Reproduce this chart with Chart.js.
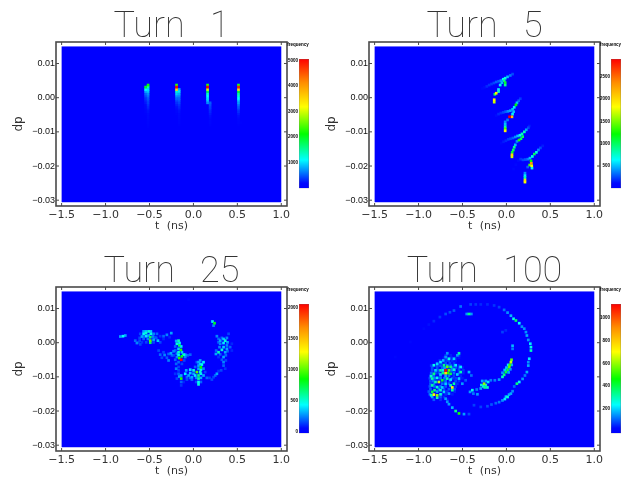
<!DOCTYPE html>
<html lang="en">
<head>
<meta charset="UTF-8">
<title>Turn 1, 5, 25, 100</title>
<script src="https://cdn.jsdelivr.net/npm/chart.js"></script>
<style>
    body { margin: 0; background: #fff; }
    #page { position: relative; width: 630px; height: 477px; overflow: hidden; filter: blur(0.45px); }
    canvas { position: absolute; }
</style>
</head>
<body>
<div id="page"></div>
<script>
// axis ticks, shared by all four panels
const tTicks = [-1.5, -1.0, -0.5, 0.0, 0.5, 1.0];
const dpTicks = [-0.03, -0.02, -0.01, 0.00, 0.01];
const tRange = [-1.5, 1.0];
const dpRange = [-0.0306, 0.015];

// colour bar limits and labels
const turn1Bar = { min: 0, max: 5050, ticks: [1000, 2000, 3000, 4000, 5000] };
const turn5Bar = { min: 0, max: 2900, ticks: [500, 1000, 1500, 2000, 2500] };
const turn25Bar = { min: -27, max: 2064, ticks: [0, 500, 1000, 1500, 2000] };
const turn100Bar = { min: -11, max: 1118, ticks: [200, 400, 600, 800, 1000] };

const colorStops = [[0, '#0000ff'], [0.04, '#0008ff'], [0.22, '#00ffff'], [0.42, '#00ff00'], [0.63, '#ffff00'], [0.82, '#ff8c00'], [1, '#ff0000']];

// cells: [t (ns), dp, frequency]
const turn1Cells = [
    [-0.516,.0037,2200],[-0.516,.0031,1400],[-0.516,.0024,1000],[-0.516,.0018,900],[-0.516,.0011,700],[-0.516,.0005,600],[-0.516,-.0002,500],[-0.516,-.0008,450],[-0.516,-.0015,400],[-0.516,-.0021,350],[-0.516,-.0028,300],[-0.516,-.0034,250],[-0.516,-.0041,220],[-0.516,-.0047,200],[-0.516,-.0054,180],[-0.516,-.0060,150],[-0.516,-.0067,120],[-0.516,-.0073,100],[-0.516,-.0080,80],[-0.516,-.0086,60],
    [-0.544,.0031,2000],[-0.544,.0024,1100],[-0.544,.0018,800],[-0.544,.0011,550],[-0.544,.0005,450],[-0.544,-.0002,350],[-0.544,-.0008,300],[-0.544,-.0015,250],[-0.544,-.0021,200],[-0.544,-.0028,170],[-0.544,-.0034,130],[-0.544,-.0041,100],[-0.544,-.0047,60],
    [-0.192,.0037,2300],[-0.192,.0031,5000],[-0.192,.0024,3500],[-0.192,.0018,1300],[-0.192,.0011,900],[-0.192,.0005,700],[-0.192,-.0002,550],[-0.192,-.0008,450],[-0.192,-.0015,350],[-0.192,-.0021,280],[-0.192,-.0028,220],[-0.192,-.0034,170],[-0.192,-.0041,120],[-0.192,-.0047,80],
    [-0.162,.0024,800],[-0.162,.0018,1000],[-0.162,.0011,800],[-0.162,.0005,650],[-0.162,-.0002,550],[-0.162,-.0008,500],[-0.162,-.0015,420],[-0.162,-.0021,350],[-0.162,-.0028,300],[-0.162,-.0034,250],[-0.162,-.0041,220],[-0.162,-.0047,200],[-0.162,-.0054,170],[-0.162,-.0060,150],[-0.162,-.0067,120],[-0.162,-.0073,90],[-0.162,-.0080,60],
    [0.161,.0037,2300],[0.161,.0031,5000],[0.161,.0024,3000],[0.161,.0018,1800],[0.161,.0011,1300],[0.161,.0005,1100],[0.161,-.0002,1000],[0.161,-.0008,900],[0.161,-.0015,700],
    [0.190,-.0015,500],[0.190,-.0021,450],[0.190,-.0028,400],[0.190,-.0034,350],[0.190,-.0041,300],[0.190,-.0047,260],[0.190,-.0054,220],[0.190,-.0060,180],[0.190,-.0067,150],[0.190,-.0073,120],[0.190,-.0080,80],
    [0.513,.0037,2300],[0.513,.0031,4800],[0.513,.0024,3400],[0.513,.0018,1900],[0.513,.0011,1500],[0.513,.0005,1300],[0.513,-.0002,1100],[0.513,-.0008,900],[0.513,-.0015,750],[0.513,-.0021,600],[0.513,-.0028,500],[0.513,-.0034,400],[0.513,-.0041,330],[0.513,-.0047,270],[0.513,-.0054,220],[0.513,-.0060,170],[0.513,-.0067,130],[0.513,-.0073,90],[0.513,-.0080,50],[0.541,-.0073,40]
];

const turn5Cells = [
    [.070,.0069,250],[.044,.0065,350],[.013,.0061,500],[-.014,.0057,700],[-.036,.0054,650],[-.063,.0050,400],[-.090,.0048,300],[-.116,.0046,300],[-.143,.0043,250],[-.170,.0040,220],[-.196,.0037,200],[-.223,.0033,180],[-.250,.0030,120],[-.273,.0027,80],
    [-.025,.0050,900],[-.014,.0044,1100],[-.014,.0037,900],[-.052,.0044,500],[-.071,.0037,600],[-.090,.0024,600],[-.090,.0018,750],[-.116,.0013,1900],[-.132,.0010,1000],[-.139,-.0006,1900],[-.139,-.0013,1700],
    [.158,-.0003,220],[.139,-.0009,300],[.120,-.0015,500],[.108,-.0021,1200],[.089,-.0028,600],[.070,-.0034,500],[.044,-.0038,450],[.017,-.0040,400],[-.010,-.0041,300],[-.036,-.0043,250],[-.063,-.0045,200],[-.090,-.0048,180],[-.116,-.0052,120],
    [.082,-.0041,500],[.070,-.0048,600],[.036,-.0056,2900],[.063,-.0056,2100],[.013,-.0065,350],[-.014,-.0071,400],[-.014,-.0078,500],[-.014,-.0085,800],[-.014,-.0091,1400],[-.014,-.0097,1900],
    [.261,-.0083,150],[.249,-.0088,250],[.226,-.0094,450],[.204,-.0100,800],[.177,-.0106,800],[.154,-.0110,650],[.127,-.0112,500],[.101,-.0115,400],[.074,-.0118,300],[.047,-.0120,250],[.021,-.0122,220],[-.006,-.0126,180],[-.033,-.0129,150],[-.059,-.0133,100],
    [.185,-.0114,1000],[.166,-.0120,1000],[.143,-.0124,1300],[.120,-.0128,400],[.101,-.0138,500],[.089,-.0145,900],[.078,-.0153,1000],[.066,-.0160,1100],[.063,-.0167,2000],[.063,-.0173,1700],
    [.413,-.0141,150],[.387,-.0147,250],[.364,-.0153,400],[.341,-.0160,700],[.318,-.0165,1000],[.295,-.0172,700],[.268,-.0177,500],[.242,-.0180,350],[.215,-.0181,280],[.188,-.0182,250],[.162,-.0180,200],[.135,-.0184,120],[.108,-.0196,100],[.082,-.0209,80],
    [.280,-.0185,1200],[.284,-.0192,2300],[.265,-.0197,1400],[.288,-.0199,1800],[.242,-.0203,300],[.291,-.0206,700],
    [.211,-.0221,400],[.211,-.0228,600],[.211,-.0234,800],[.211,-.0241,2000],[.211,-.0247,1800]
];

const turn25Cells = [
    [.217,.0062,400],[.240,.0057,800],[.229,.0050,250],[-.055,.0126,40],
    [-.802,.0019,450],[-.832,.0018,300],[-.775,.0021,300],[-.662,.0006,200],[-.643,-.0001,250],[-.612,.0006,150],
    [-.567,.0026,450],[-.540,.0028,500],[-.510,.0033,500],[-.484,.0026,450],[-.586,.0018,300],[-.537,.0019,400],[-.491,.0016,700],[-.491,.0006,1000],[-.491,.0000,700],[-.453,.0026,250],[-.415,.0026,200],[-.453,.0009,300],[-.404,.0006,350],[-.378,.0001,150],[-.340,.0019,200],[-.302,.0023,250],[-.252,.0028,300],[-.567,.0011,200],[-.605,-.0005,150],[-.567,.0033,300],[-.540,.0033,350],[-.484,.0033,350],
    [-.605,.0026,150],[-.612,.0014,150],[-.567,.0018,200],[-.510,.0021,300],[-.461,.0018,250],[-.434,.0016,150],[-.518,.0011,250],[-.453,.0001,150],[-.423,.0014,180],[-.378,.0019,120],[-.624,.0001,120],[-.586,.0001,120],[-.537,.0001,150],[-.340,.0011,100],[-.271,.0016,100],
    [-.169,.0006,550],[-.188,-.0003,500],[-.161,-.0008,700],[-.207,-.0011,200],[-.143,-.0021,900],[-.169,-.0028,500],[-.396,-.0023,150],[-.378,-.0035,200],[-.328,-.0036,250],[-.283,-.0052,250],[-.283,-.0033,200],[-.256,-.0031,300],[-.226,-.0025,250],[-.169,-.0036,450],[-.131,-.0040,800],[-.112,-.0035,500],[-.139,-.0050,2050],[-.161,-.0045,900],[-.093,-.0035,300],[-.036,-.0035,200],[-.207,-.0050,200],[-.196,-.0062,200],[-.196,-.0076,250],[-.169,-.0091,200],[-.139,-.0105,900],[-.161,-.0099,300],[-.139,-.0115,200],
    [-.158,-.0001,400],[-.196,.0005,300],[-.139,-.0011,400],[-.169,-.0018,350],[-.207,-.0023,200],[-.188,-.0032,250],[-.245,-.0037,200],[-.302,-.0044,180],[-.340,-.0028,150],[-.359,-.0044,150],[-.131,-.0028,350],[-.093,-.0042,250],[-.067,-.0037,200],[-.169,-.0057,200],[-.131,-.0062,150],[-.226,-.0037,150],[-.188,-.0042,250],[-.105,-.0052,150],[-.169,-.0071,150],[-.169,-.0081,150],[-.139,-.0096,300],[-.188,-.0105,150],[-.112,-.0115,100],[-.207,-.0091,120],[-.139,-.0125,120],
    [.058,-.0057,300],[.085,-.0072,850],[.115,-.0057,400],[.058,-.0067,300],[.039,-.0086,1000],[.002,-.0081,500],[-.036,-.0079,400],[-.082,-.0081,300],[-.093,-.0091,400],[-.055,-.0096,300],[-.017,-.0101,300],[.020,-.0096,400],[.058,-.0096,650],[.058,-.0105,600],[.058,-.0115,450],[.058,-.0122,500],[.115,-.0096,300],[.153,-.0103,200],[.210,-.0108,150],[.267,-.0091,300],[.229,-.0101,150],[-.074,-.0108,150],[-.017,-.0108,200],[.085,-.0079,500],[.077,-.0062,350],
    [.077,-.0052,300],[.039,-.0057,180],[.096,-.0064,450],[.115,-.0076,250],[.058,-.0076,300],[.020,-.0071,200],[.077,-.0086,500],[.032,-.0103,250],[.002,-.0091,300],[-.036,-.0089,350],[-.074,-.0101,200],[-.036,-.0103,200],[.085,-.0103,300],[.085,-.0091,400],[.032,-.0115,150],[.085,-.0115,200],[.134,-.0086,150],[.183,-.0103,150],[.248,-.0096,200],[.286,-.0083,120],
    [.267,.0019,250],[.305,.0006,300],[.362,.0006,500],[.343,-.0001,400],[.388,.0001,300],[.400,.0026,150],[.418,-.0013,200],[.381,-.0018,300],[.324,-.0021,500],[.286,-.0028,550],[.256,-.0033,300],[.362,-.0028,300],[.343,-.0042,300],[.343,-.0057,250],[.343,-.0067,200],[.316,-.0081,150],[.437,-.0023,100],[.286,.0011,200],[.381,-.0008,250],
    [.286,.0001,200],[.324,.0014,200],[.343,.0011,350],[.381,.0014,250],[.305,-.0003,250],[.259,-.0023,200],[.297,-.0013,250],[.343,-.0013,350],[.388,-.0025,200],[.305,-.0034,200],[.369,-.0037,200],[.324,-.0050,180],[.369,-.0052,150],[.362,-.0076,120],[.286,-.0042,120],[.437,-.0003,100]
];

const turn100Cells = [
    [-1.264,-.0042,20],[-1.092,.0002,25],[-.940,.0041,30],[-.883,.0053,40],[-.826,.0063,60],[-.757,.0075,70],[-.692,.0084,90],[-.643,.0089,90],[-.597,.0094,100],[-.521,.0106,120],[-.452,.0084,150],[-.426,.0084,350],[-.399,.0084,150],[-.407,.0112,80],[-.349,.0112,70],[-.292,.0112,60],[-.216,.0112,60],[-.140,.0109,70],[-.083,.0104,80],[-.026,.0096,120],[.013,.0088,150],[.051,.0079,180],[.081,.0070,260],[.108,.0065,380],[.146,.0057,240],[.176,.0047,150],[.203,.0041,150],[.222,.0031,150],[.233,.0021,170],[.249,.0008,150],[.272,-.0003,220],[.279,-.0013,260],[.279,-.0023,300],[.260,-.0047,220],[.249,-.0057,150],[.249,-.0067,170],[.233,-.0086,170],[.211,-.0096,130],[.184,-.0106,150],[.146,-.0115,230],[.119,-.0120,360],[.089,-.0128,110],[.051,-.0149,170],[.013,-.0159,270],[-.018,-.0165,220],[-.045,-.0169,150],[-.083,-.0174,130],[-.121,-.0177,110],[-.170,-.0181,100],[-.216,-.0186,90],[-.292,-.0188,80],[-.369,-.0183,80],
    [-.045,.0031,80],[-.007,.0036,60],[.070,-.0009,180],[.070,-.0018,130],
    [.058,-.0050,550],[.051,-.0057,650],[.039,-.0065,500],[.032,-.0071,550],[.013,-.0079,400],[-.007,-.0086,400],[-.026,-.0094,350],[-.045,-.0100,300],[-.083,-.0108,160],[-.132,-.0110,130],[-.178,-.0110,130],[-.208,-.0115,220],[-.254,-.0120,600],[-.285,-.0124,280],[-.216,-.0131,280],[-.247,-.0131,330],[-.292,-.0134,170],[-.338,-.0137,130],[-.388,-.0139,260],[-.414,-.0144,160],[-.330,-.0151,160],[-.376,-.0149,130],
    [.020,-.0065,220],[.000,-.0073,190],[-.020,-.0080,190],[.060,-.0065,170],[.045,-.0078,150],[.025,-.0087,170],[-.045,-.0088,150],[-.275,-.0112,170],[-.235,-.0112,170],[-.235,-.0124,300],[-.262,-.0128,260],[.030,-.0152,170],[-.005,-.0158,190],[.070,-.0142,140],
    [-.673,-.0031,150],[-.540,-.0031,320],[-.559,-.0037,150],[-.654,-.0047,260],[-.692,-.0042,150],[-.597,-.0047,200],[-.750,-.0057,220],[-.719,-.0052,180],[-.826,-.0066,260],[-.788,-.0062,200],[-.711,-.0066,350],[-.673,-.0071,550],[-.635,-.0071,350],[-.750,-.0081,320],[-.692,-.0081,1118],[-.692,-.0089,750],[-.654,-.0081,550],[-.666,-.0089,500],[-.635,-.0091,400],[-.723,-.0089,350],[-.750,-.0093,200],[-.578,-.0066,220],[-.521,-.0071,220],[-.597,-.0079,280],[-.521,-.0086,320],[-.559,-.0093,200],[-.426,-.0086,180],[-.399,-.0096,120],[-.826,-.0091,350],[-.856,-.0098,280],[-.845,-.0105,320],[-.769,-.0115,650],[-.730,-.0110,420],[-.788,-.0103,250],[-.807,-.0115,300],[-.673,-.0105,320],[-.635,-.0108,220],[-.616,-.0131,720],[-.597,-.0120,320],[-.635,-.0125,300],[-.616,-.0139,320],[-.654,-.0149,160],[-.845,-.0125,320],[-.788,-.0130,280],[-.826,-.0152,700],[-.788,-.0154,600],[-.845,-.0144,400],[-.818,-.0139,350],[-.856,-.0154,300],[-.750,-.0139,280],[-.750,-.0151,280],[-.711,-.0144,200],[-.788,-.0161,300],[-.692,-.0164,160],[-.673,-.0173,150],[-.654,-.0180,160],[-.616,-.0190,180],[-.578,-.0200,350],[-.540,-.0207,480],[-.483,-.0209,160],[-.426,-.0209,90],[-.502,-.0120,160],[-.540,-.0105,200],[-.464,-.0110,100],[-.807,-.0081,200],[-.730,-.0131,200],[-.692,-.0120,200],
    [-.692,-.0037,60],[-.681,-.0037,70],[-.635,-.0037,50],[-.540,-.0037,70],
    [-.711,-.0044,50],[-.681,-.0044,70],[-.628,-.0044,60],[-.578,-.0044,50],[-.540,-.0044,45],
    [-.757,-.0052,70],[-.681,-.0052,80],[-.654,-.0052,90],[-.616,-.0052,70],[-.578,-.0052,50],
    [-.788,-.0060,70],[-.730,-.0060,60],[-.692,-.0060,90],[-.643,-.0060,90],[-.597,-.0060,70],
    [-.856,-.0067,70],[-.788,-.0067,90],[-.750,-.0067,100],[-.673,-.0067,160],[-.635,-.0067,110],[-.597,-.0067,90],[-.540,-.0067,70],
    [-.845,-.0073,90],[-.788,-.0073,90],[-.730,-.0073,110],[-.704,-.0073,160],[-.616,-.0073,120],[-.578,-.0073,90],[-.540,-.0073,90],[-.502,-.0073,60],
    [-.845,-.0081,90],[-.780,-.0081,100],[-.723,-.0081,220],[-.624,-.0081,130],[-.589,-.0081,100],[-.540,-.0081,90],[-.490,-.0081,70],
    [-.856,-.0089,110],[-.807,-.0089,90],[-.769,-.0089,90],[-.597,-.0089,120],[-.540,-.0089,90],[-.490,-.0089,55],
    [-.864,-.0097,100],[-.826,-.0097,110],[-.750,-.0097,100],[-.692,-.0097,170],[-.654,-.0097,130],[-.597,-.0097,80],[-.521,-.0097,55],
    [-.871,-.0104,90],[-.818,-.0104,130],[-.750,-.0104,130],[-.704,-.0104,130],[-.616,-.0104,100],[-.578,-.0104,80],[-.502,-.0104,50],
    [-.864,-.0112,100],[-.833,-.0112,130],[-.692,-.0112,120],[-.643,-.0112,90],[-.578,-.0112,90],[-.540,-.0112,70],
    [-.864,-.0120,100],[-.826,-.0120,120],[-.730,-.0120,120],[-.654,-.0120,110],[-.559,-.0120,65],
    [-.871,-.0128,100],[-.818,-.0128,110],[-.750,-.0128,120],[-.692,-.0128,100],[-.578,-.0128,70],
    [-.864,-.0136,110],[-.769,-.0136,130],[-.711,-.0136,90],[-.654,-.0136,100],[-.589,-.0136,90],
    [-.883,-.0143,100],[-.788,-.0143,160],[-.673,-.0143,70],[-.589,-.0143,55],
    [-.871,-.0151,120],[-.742,-.0151,100],[-.692,-.0151,65],[-.616,-.0151,50],
    [-.845,-.0159,160],[-.750,-.0159,100],[-.711,-.0159,60],
    [-.826,-.0167,100],[-.750,-.0167,65],[-.673,-.0167,60]
];

const panels = [
    { title: 'Turn  1', cells: turn1Cells, bar: turn1Bar, left: 0, top: 0, barGap: 12 },
    { title: 'Turn  5', cells: turn5Cells, bar: turn5Bar, left: 313, top: 0, barGap: 11 },
    { title: 'Turn  25', cells: turn25Cells, bar: turn25Bar, left: 0, top: 245, barGap: 12 },
    { title: 'Turn  100', cells: turn100Cells, bar: turn100Bar, left: 313, top: 245, barGap: 11 }
];

function minusSign(text) {
    return text.replace('-', '\u2212');
}

function lerpColor(a, b, k) {
    const pa = parseInt(a.slice(1), 16), pb = parseInt(b.slice(1), 16);
    const ch = (s) => Math.round(((pa >> s) & 255) * (1 - k) + ((pb >> s) & 255) * k);
    return `rgb(${ch(16)},${ch(8)},${ch(0)})`;
}

function freqColor(frac) {
    frac = Math.max(0, Math.min(1, frac));
    for (let i = 1; i < colorStops.length; i++) {
        if (frac <= colorStops[i][0]) {
            const k = (frac - colorStops[i - 1][0]) / (colorStops[i][0] - colorStops[i - 1][0]);
            return lerpColor(colorStops[i - 1][1], colorStops[i][1], k);
        }
    }
    return colorStops[colorStops.length - 1][1];
}

function addCanvas(left, top, width, height) {
    const canvas = document.createElement('canvas');
    canvas.width = width;
    canvas.height = height;
    canvas.style.left = left + 'px';
    canvas.style.top = top + 'px';
    document.getElementById('page').appendChild(canvas);
    return canvas;
}

// blue field, then the frame with its inward ticks
const framePlugin = {
    id: 'frame',
    beforeDraw(chart) {
        chart.ctx.wordSpacing = '4px';
    },
    beforeDatasetsDraw(chart) {
        const { ctx, scales: { x, y } } = chart;
        const x0 = x.getPixelForValue(tRange[0]), x1 = x.getPixelForValue(tRange[1]);
        const y0 = y.getPixelForValue(dpRange[1]), y1 = y.getPixelForValue(dpRange[0]);
        ctx.save();
        ctx.fillStyle = '#0000ff';
        ctx.fillRect(x0, y0, x1 - x0, y1 - y0);
        ctx.restore();
    },
    afterDraw(chart) {
        const { ctx, chartArea: a, scales: { x, y } } = chart;
        ctx.save();
        ctx.strokeStyle = '#4a4a4a';
        ctx.lineWidth = 1.6;
        ctx.strokeRect(a.left, a.top, a.right - a.left, a.bottom - a.top);
        ctx.lineWidth = 1;
        ctx.beginPath();
        tTicks.forEach((v) => {
            const px = x.getPixelForValue(v);
            ctx.moveTo(px, a.top); ctx.lineTo(px, a.top + 3);
            ctx.moveTo(px, a.bottom); ctx.lineTo(px, a.bottom - 3);
        });
        dpTicks.forEach((v) => {
            const py = y.getPixelForValue(v);
            ctx.moveTo(a.left, py); ctx.lineTo(a.left + 3, py);
            ctx.moveTo(a.right, py); ctx.lineTo(a.right - 3, py);
        });
        ctx.stroke();
        ctx.restore();
    }
};

function drawPanel(p) {
    const cells = [...p.cells].sort((a, b) => a[2] - b[2]);
    const span = p.bar.max - p.bar.min;

    new Chart(addCanvas(p.left, p.top, 312, 232), {
        type: 'scatter',
        data: {
            datasets: [{
                data: cells.map((c) => ({ x: c[0], y: c[1], f: c[2] })),
                pointStyle: 'rect',
                pointRadius: 1.9,
                borderWidth: 0,
                backgroundColor: (c) => freqColor((c.raw.f - p.bar.min) / span)
            }]
        },
        options: {
            responsive: false,
            animation: false,
            events: [],
            layout: { padding: { left: 0, right: 25, top: 0, bottom: 0 } },
            plugins: {
                legend: { display: false },
                tooltip: { enabled: false },
                title: {
                    display: true,
                    text: p.title,
                    fullSize: false,
                    color: '#333',
                    font: { family: 'Roboto', size: 36, weight: 100, lineHeight: 1 },
                    padding: { top: 10, bottom: -4 }
                }
            },
            scales: {
                x: {
                    min: -1.564, max: 1.065,
                    grid: { display: false, drawTicks: false },
                    border: { display: false },
                    afterBuildTicks: (s) => { s.ticks = tTicks.map((v) => ({ value: v })); },
                    afterFit: (s) => { s.height = 26; },
                    ticks: {
                        autoSkip: false, maxRotation: 0, padding: 3, color: '#333',
                        font: { family: 'DejaVu Sans', size: 11 },
                        callback: (v) => minusSign(v.toFixed(1))
                    },
                    title: {
                        display: true, text: 't (ns)', color: '#333',
                        font: { family: 'DejaVu Sans', size: 11, lineHeight: 1 },
                        padding: { top: 0, bottom: 0 }
                    }
                },
                y: {
                    min: -0.0317, max: 0.0163,
                    grid: { display: false, drawTicks: false },
                    border: { display: false },
                    afterBuildTicks: (s) => { s.ticks = dpTicks.map((v) => ({ value: v })); },
                    afterFit: (s) => { s.width = 56; },
                    ticks: {
                        autoSkip: false, padding: 1, color: '#111',
                        font: { family: 'Liberation Sans', size: 9 },
                        callback: (v) => minusSign(v.toFixed(2))
                    },
                    title: {
                        display: true, text: 'dp', color: '#333',
                        font: { family: 'DejaVu Sans', size: 12, lineHeight: 1 },
                        padding: { top: 13, bottom: 0 }
                    }
                }
            }
        },
        plugins: [framePlugin]
    });

    // colour bar: one floating bar with the colour ramp as its fill
    new Chart(addCanvas(p.left + 287, p.top + 40, 34, 152), {
        type: 'bar',
        data: {
            labels: ['frequency'],
            datasets: [{
                data: [[p.bar.min, p.bar.max]],
                barPercentage: 1,
                categoryPercentage: 1,
                borderWidth: 0.6,
                borderColor: '#666',
                borderSkipped: false,
                backgroundColor: (c) => {
                    const a = c.chart.chartArea;
                    if (!a) return '#0000ff';
                    const g = c.chart.ctx.createLinearGradient(0, a.bottom, 0, a.top);
                    colorStops.forEach((s) => g.addColorStop(s[0], s[1]));
                    return g;
                }
            }]
        },
        options: {
            responsive: false,
            animation: false,
            events: [],
            layout: { padding: { left: 0, right: 34 - p.barGap - 10, top: 0, bottom: 2.7 } },
            plugins: {
                legend: { display: false },
                tooltip: { enabled: false },
                title: {
                    display: true,
                    text: 'frequency',
                    color: '#000',
                    font: { family: 'Liberation Sans', size: 4.5, weight: 'bold', lineHeight: 1 },
                    padding: { top: 3, bottom: 11.5 }
                }
            },
            scales: {
                x: { display: false },
                y: {
                    min: p.bar.min, max: p.bar.max,
                    grid: { display: false, drawTicks: false },
                    border: { display: false },
                    afterBuildTicks: (s) => { s.ticks = p.bar.ticks.map((v) => ({ value: v })); },
                    afterFit: (s) => { s.width = p.barGap; },
                    ticks: {
                        autoSkip: false, padding: 1, color: '#000',
                        font: { family: 'Liberation Sans', size: 4.5, weight: 'bold' },
                        callback: (v) => String(v)
                    }
                }
            }
        }
    });
}

panels.forEach(drawPanel);
</script>
</body>
</html>
